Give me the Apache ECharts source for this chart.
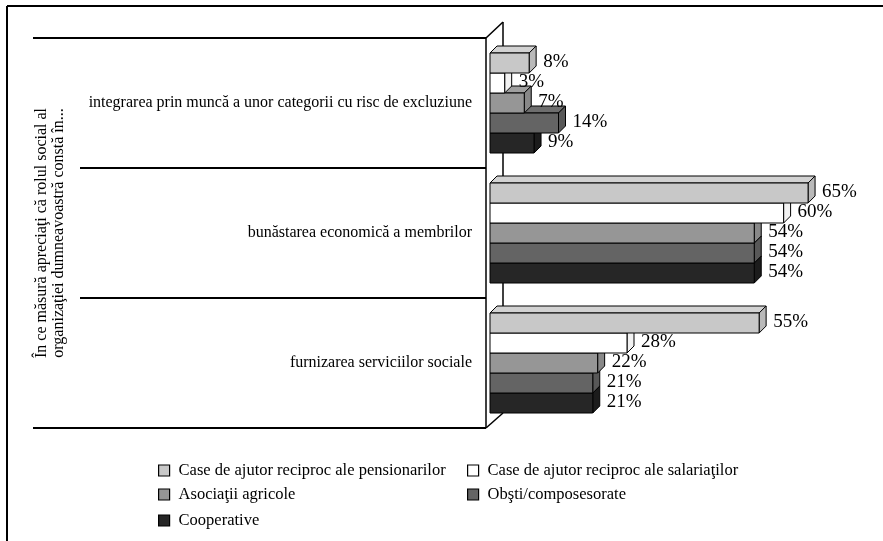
<!DOCTYPE html>
<html>
<head>
<meta charset="utf-8">
<script src="https://cdn.jsdelivr.net/npm/echarts@6/dist/echarts.min.js"></script>
<style>
  html, body { margin: 0; padding: 0; background: #fff; }
  #chart { width: 883px; height: 541px; }
</style>
</head>
<body>
<div id="chart"></div>
<script>
// Categories (top to bottom) and series values, in percent
const categories = [
  'integrarea prin muncă a unor categorii cu risc de excluziune',
  'bunăstarea economică a membrilor',
  'furnizarea serviciilor sociale'
];
const seriesNames = [
  'Case de ajutor reciproc ale pensionarilor',
  'Case de ajutor reciproc ale salariaţilor',
  'Asociaţii agricole',
  'Obşti/composesorate',
  'Cooperative'
];
const pensionari = [8, 65, 55];
const salariati = [3, 60, 28];
const asociatii = [7, 54, 22];
const obsti = [14, 54, 21];
const cooperative = [9, 54, 21];
const axisTitle = 'În ce măsură apreciaţi că rolul social al\norganizaţiei dumneavoastră constă în...';

const seriesValues = [pensionari, salariati, asociatii, obsti, cooperative];

// Face colours: front, top, side
const faces = [
  ['#c8c8c8', '#d2d2d2', '#b9b9b9'],
  ['#ffffff', '#ffffff', '#f2f2f2'],
  ['#969696', '#a0a0a0', '#888888'],
  ['#646464', '#6e6e6e', '#585858'],
  ['#262626', '#303030', '#1c1c1c']
];

const FONT = '"Liberation Serif", "Times New Roman", serif';
const GRID = { left: 490, top: 38, right: 26, height: 390 };
const GROUP_FRACTION = 100 / 130;  // share of a category band taken by its bars
const DEPTH = 7;                   // 3D offset of the bar tops/sides
const WALL_DEPTH = 17;

function makeRender(si) {
  const n = seriesValues.length;
  return function (params, api) {
    const v = api.value(0);
    const c = api.value(1);
    const start = api.coord([0, c]);
    const end = api.coord([v, c]);
    const band = api.size([0, 1])[1];
    const h = band * GROUP_FRACTION / n;
    const y0 = start[1] - band * GROUP_FRACTION / 2 + si * h;
    const y1 = y0 + h;
    const x0 = start[0];
    const x1 = end[0];
    const d = DEPTH;
    const f = faces[si];
    const line = { stroke: '#000', lineWidth: 1 };
    return {
      type: 'group',
      children: [
        {
          type: 'polygon',
          shape: { points: [[x0, y0], [x0 + d, y0 - d], [x1 + d, y0 - d], [x1, y0]] },
          style: Object.assign({ fill: f[1] }, line)
        },
        {
          type: 'polygon',
          shape: { points: [[x1, y0], [x1 + d, y0 - d], [x1 + d, y1 - d], [x1, y1]] },
          style: Object.assign({ fill: f[2] }, line)
        },
        {
          type: 'rect',
          shape: { x: x0, y: y0, width: x1 - x0, height: h },
          style: Object.assign({ fill: f[0] }, line)
        },
        {
          type: 'text',
          z2: 20,
          style: {
            text: v + '%',
            x: x1 + 14,
            y: (y0 + y1) / 2 - 1,
            fill: '#000',
            font: '19px ' + FONT,
            align: 'left',
            verticalAlign: 'middle'
          }
        }
      ]
    };
  };
}

const series = seriesNames.map(function (name, si) {
  return {
    type: 'custom',
    name: name,
    z: 10 - si,
    itemStyle: { color: faces[si][0], borderColor: '#000', borderWidth: 1 },
    renderItem: makeRender(si),
    encode: { x: 0, y: 1 },
    data: seriesValues[si].map(function (v, ci) { return [v, ci]; })
  };
});

// Legend laid out as a two-column grid
const legendCells = [
  { left: 153, top: 457 },
  { left: 462, top: 457 },
  { left: 153, top: 481 },
  { left: 462, top: 481 },
  { left: 153, top: 507 }
];
const legends = seriesNames.map(function (name, si) {
  return {
    data: [name],
    left: legendCells[si].left,
    top: legendCells[si].top,
    icon: 'rect',
    itemWidth: 11,
    itemHeight: 11,
    selectedMode: false,
    itemStyle: { borderColor: '#000', borderWidth: 1.2 },
    textStyle: { fontFamily: FONT, fontSize: 16.5, color: '#000', padding: [0, 0, 0, 4] }
  };
});

// Side wall, frame and category separators
const gTop = GRID.top, gBot = GRID.top + GRID.height, band = GRID.height / categories.length;
const wallX = GRID.left - 4;
const thin = { stroke: '#000', lineWidth: 1.5 };
const thick = { stroke: '#000', lineWidth: 2 };
const graphics = [
  { type: 'line', z: 0, shape: { x1: wallX + WALL_DEPTH, y1: gTop - 16, x2: wallX + WALL_DEPTH, y2: gBot - 15 }, style: thin },
  { type: 'line', z: 0, shape: { x1: wallX, y1: gTop, x2: wallX + WALL_DEPTH, y2: gTop - 16 }, style: thin },
  { type: 'line', z: 0, shape: { x1: wallX, y1: gBot, x2: wallX + WALL_DEPTH, y2: gBot - 15 }, style: thin },
  { type: 'line', z: 0, shape: { x1: wallX, y1: gTop, x2: wallX, y2: gBot }, style: thin },
  { type: 'line', shape: { x1: 33, y1: gTop, x2: wallX, y2: gTop }, style: thick },
  { type: 'line', shape: { x1: 80, y1: gTop + band, x2: wallX, y2: gTop + band }, style: thick },
  { type: 'line', shape: { x1: 80, y1: gTop + 2 * band, x2: wallX, y2: gTop + 2 * band }, style: thick },
  { type: 'line', shape: { x1: 33, y1: gBot, x2: wallX, y2: gBot }, style: thick },
  { type: 'line', shape: { x1: 7, y1: 6, x2: 883, y2: 6 }, style: thick },
  { type: 'line', shape: { x1: 7, y1: 6, x2: 7, y2: 541 }, style: thick },
  {
    type: 'text',
    x: 50, y: 233,
    rotation: Math.PI / 2,
    style: {
      text: axisTitle,
      fill: '#000',
      font: '16px ' + FONT,
      lineHeight: 17,
      align: 'center',
      verticalAlign: 'middle'
    }
  }
];

const chart = echarts.init(document.getElementById('chart'), null, { renderer: 'canvas' });
chart.setOption({
  animation: false,
  backgroundColor: '#fff',
  grid: { left: GRID.left, top: GRID.top, right: GRID.right, height: GRID.height },
  xAxis: { type: 'value', min: 0, max: 75, show: false },
  yAxis: {
    type: 'category',
    inverse: true,
    data: categories,
    axisLine: { show: false },
    axisTick: { show: false },
    splitLine: { show: false },
    axisLabel: { margin: 18, fontFamily: FONT, fontSize: 16, color: '#000' }
  },
  legend: legends,
  series: series,
  graphic: graphics
});
</script>
</body>
</html>
